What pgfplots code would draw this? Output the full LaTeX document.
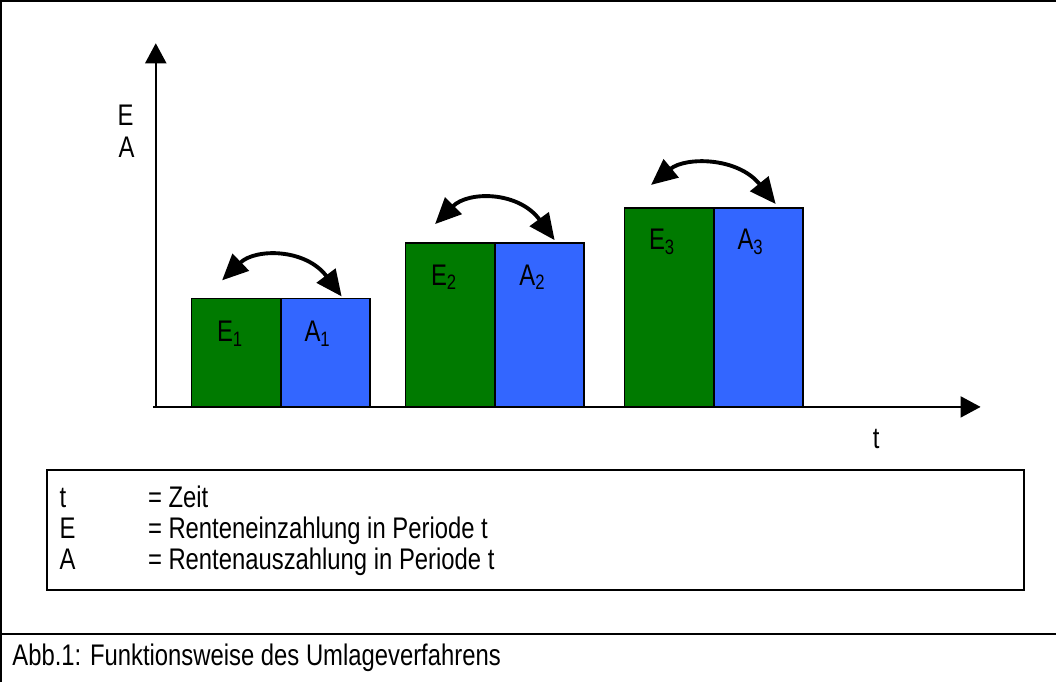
\documentclass[border=0pt]{standalone}
\usepackage{fontspec}
\setmainfont{Liberation Sans}
\usepackage{graphicx}
\usepackage{pgfplots}
\pgfplotsset{compat=1.18}
\usetikzlibrary{arrows.meta}

\definecolor{eingreen}{RGB}{0,122,0}
\definecolor{ausblue}{RGB}{51,102,255}
% the original text is set a little taller than wide
\newcommand{\tx}[1]{\scalebox{1}[1.25]{#1}}

\begin{document}
\fontsize{13.5}{16}\selectfont
\begin{tikzpicture}
% one axis unit = one pixel of the original, y = 410 - pixel row
\begin{axis}[
  width=21.14cm, height=13.68cm, scale only axis,
  xmin=0, xmax=1057, ymin=-274, ymax=410,
  axis lines=none, ticks=none, clip=false,
  every node/.style={inner sep=0pt}]

% E_t (Einzahlung)
\addplot[ybar, bar width=89, bar shift=0pt, fill=eingreen, draw=black, line width=0.9pt]
  coordinates {(241,108) (454,163) (672,198)};
% A_t (Auszahlung)
\addplot[ybar, bar width=89, bar shift=0pt, fill=ausblue, draw=black, line width=0.9pt]
  coordinates {(330,108) (543,163) (761,198)};

% frame and caption line
\draw[line width=1.2pt] (axis cs:7,-274) -- (axis cs:7,404) -- (axis cs:1057,404);
\draw[line width=1.2pt] (axis cs:7,-226) -- (axis cs:1057,-226);

% axes
\draw[line width=1.1pt, -{Triangle[length=0.4cm,width=0.42cm]}] (axis cs:161,0) -- (axis cs:161,362);
\draw[line width=1.1pt, -{Triangle[length=0.4cm,width=0.42cm]}] (axis cs:158,0) -- (axis cs:982,0);
\node at (axis cs:131,290) {\tx{E}};
\node at (axis cs:132,258) {\tx{A}};
\node at (axis cs:878,-32) {\tx{t}};

% swap arrows
\tikzset{swap/.style={line width=2.2pt,
  {Triangle[length=0.52cm,width=0.46cm]}-{Triangle[length=0.52cm,width=0.46cm]}}}
\draw[swap] (axis cs:227,126) .. controls (axis cs:260,158) and (axis cs:310,158) .. (axis cs:346,110);
\draw[swap] (axis cs:439,182) .. controls (axis cs:472,215) and (axis cs:522,215) .. (axis cs:558,166);
\draw[swap] (axis cs:654,221) .. controls (axis cs:688,249) and (axis cs:740,249) .. (axis cs:778,202);

% bar labels
\node at (axis cs:235,73) {\tx{E\textsubscript{1}}};
\node at (axis cs:322,73) {\tx{A\textsubscript{1}}};
\node at (axis cs:448,129) {\tx{E\textsubscript{2}}};
\node at (axis cs:536,129) {\tx{A\textsubscript{2}}};
\node at (axis cs:665,164) {\tx{E\textsubscript{3}}};
\node at (axis cs:753,164) {\tx{A\textsubscript{3}}};

% legend box
\draw[line width=0.9pt] (axis cs:53,-63) rectangle (axis cs:1025,-182);
\node[anchor=base west] at (axis cs:57,-100) {\tx{t}};
\node[anchor=base west] at (axis cs:57,-131) {\tx{E}};
\node[anchor=base west] at (axis cs:57,-162) {\tx{A}};
\node[anchor=base west] at (axis cs:145,-100) {\tx{= Zeit}};
\node[anchor=base west] at (axis cs:145,-131) {\tx{= Renteneinzahlung in Periode t}};
\node[anchor=base west] at (axis cs:145,-162) {\tx{= Rentenauszahlung in Periode t}};

% caption
\node[anchor=west] at (axis cs:10,-250) {\tx{Abb.1: Funktionsweise des Umlageverfahrens}};
\end{axis}
\end{tikzpicture}
\end{document}
